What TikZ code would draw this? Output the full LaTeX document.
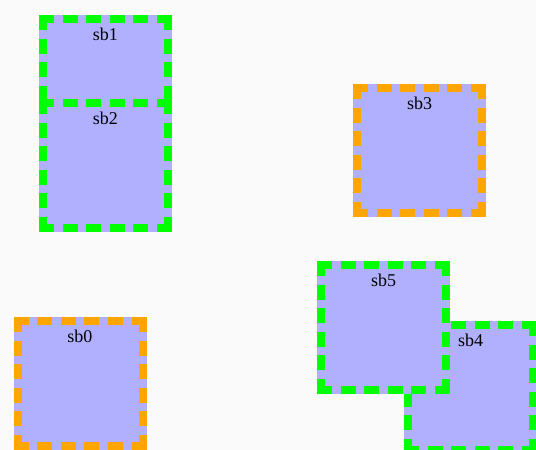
\documentclass[tikz,border=0pt]{standalone}
\usepackage{fontspec}
\setmainfont{Liberation Serif}
\usetikzlibrary{positioning}

\definecolor{sbback}{HTML}{FAFAFA}
\definecolor{sbfill}{HTML}{B0B0FF}
\definecolor{sbgreen}{HTML}{00FF00}
\definecolor{sborange}{HTML}{FFA500}

\begin{document}
\begin{tikzpicture}[x=1pt, y=-1pt,
  sbbox/.style={fill=sbfill, minimum size=133pt, inner sep=0pt, outer sep=0pt},
  sbline/.style={line width=8pt, dash pattern=on 15pt off 8.6pt},
  sbtag/.style={font=\fontsize{18}{18}\selectfont, inner sep=0pt},
]
  \useasboundingbox (0,0) rectangle (536,450);
  \fill[sbback] (0,0) rectangle (536,450);
  % boxes in drawing order: later ones lie on top
  \foreach \n/\x/\y/\c in {0/80/383.5/sborange,
                           1/105.5/81.5/sbgreen,
                           2/105.5/165.5/sbgreen,
                           3/419.5/150.5/sborange,
                           4/470.5/387.5/sbgreen,
                           5/383.5/327.5/sbgreen} {
    \node[sbbox] (sb\n) at (\x,\y) {};
    % each side on its own, so every corner gets a full dash
    \draw[sbline, draw=\c] ([yshift=-4pt]sb\n.north west) -- ([yshift=-4pt]sb\n.north east);
    \draw[sbline, draw=\c] ([xshift=-4pt]sb\n.north east) -- ([xshift=-4pt]sb\n.south east);
    \draw[sbline, draw=\c] ([yshift=4pt]sb\n.south west) -- ([yshift=4pt]sb\n.south east);
    \draw[sbline, draw=\c] ([xshift=4pt]sb\n.north west) -- ([xshift=4pt]sb\n.south west);
    \node[sbtag, below=13pt of sb\n.north] (sb\n tag) {sb\n};
  }
\end{tikzpicture}
\end{document}
